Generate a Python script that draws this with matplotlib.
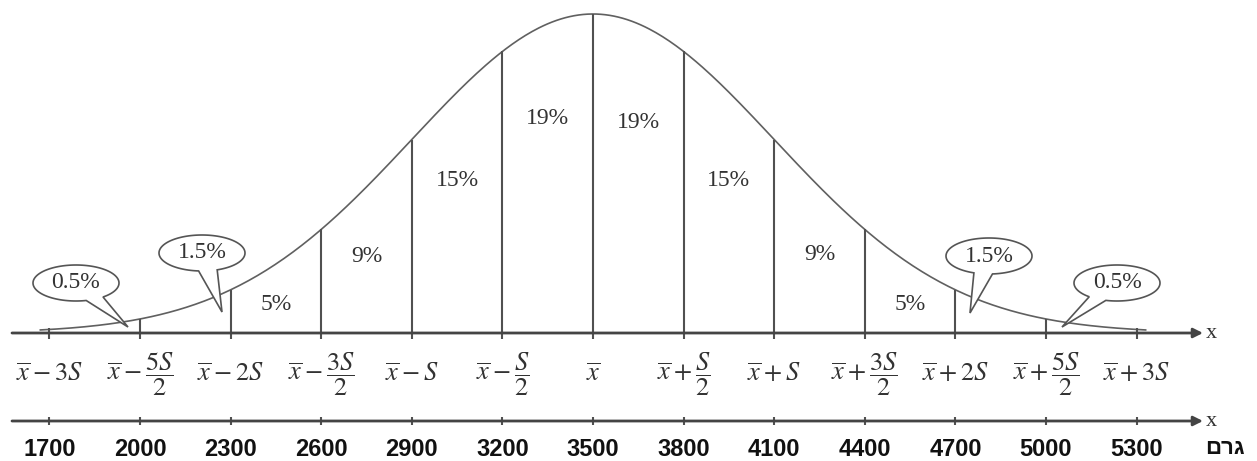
import numpy as np
import matplotlib.pyplot as plt

# normal curve: mean and standard deviation in grams
mean = 3500
S = 600
values = [1700, 2000, 2300, 2600, 2900, 3200, 3500, 3800, 4100, 4400, 4700, 5000, 5300]
sym_labels = [r'$\overline{x}-3S$', r'$\overline{x}-\dfrac{5S}{2}$', r'$\overline{x}-2S$',
              r'$\overline{x}-\dfrac{3S}{2}$', r'$\overline{x}-S$', r'$\overline{x}-\dfrac{S}{2}$',
              r'$\overline{x}$', r'$\overline{x}+\dfrac{S}{2}$', r'$\overline{x}+S$',
              r'$\overline{x}+\dfrac{3S}{2}$', r'$\overline{x}+2S$', r'$\overline{x}+\dfrac{5S}{2}$',
              r'$\overline{x}+3S$']
shares = ['5%', '9%', '15%', '19%', '19%', '15%', '9%', '5%']
tail_shares = ['0.5%', '1.5%', '1.5%', '0.5%']
unit = 'גרם'

# layout (pixel anchors of the picture)
W, H = 1257, 461
mean_px, px_per_unit = 593, 0.302
base_px, peak_h = 333, 319

fig = plt.figure(figsize=(W / 100, H / 100), dpi=100)
ax = fig.add_axes([0, 0, 1, 1])
ax.set_xlim(mean - mean_px / px_per_unit, mean + (W - mean_px) / px_per_unit)
ax.set_ylim(-(H - base_px) / peak_h, base_px / peak_h)
ax.axis('off')


def dx(px):
    return mean + (px - mean_px) / px_per_unit


def dy(py):
    return (base_px - py) / peak_h


def pdf(x):
    return np.exp(-0.5 * ((np.asarray(x) - mean) / S) ** 2)


line_c = '#505050'
low_y = dy(421)

# curve
xs = np.linspace(mean - 3.05 * S, mean + 3.05 * S, 500)
ax.plot(xs, pdf(xs), color='#606060', lw=1.2)

# vertical dividers on the upper axis
for v in values:
    top = pdf(v) if v not in (values[0], values[-1]) else 0.015
    ax.vlines(v, -0.018, top, color=line_c, lw=1.5)
    ax.vlines(v, low_y - 0.012, low_y + 0.012, color=line_c, lw=1.5)

# axes with arrows
for yy in (0, low_y):
    ax.annotate('', xy=(dx(1203), yy), xytext=(dx(12), yy),
                arrowprops=dict(arrowstyle='-|>', color='#444444', lw=2,
                                mutation_scale=14, shrinkA=0, shrinkB=0))
    ax.text(dx(1206), yy, 'x', fontsize=16, family='Liberation Serif',
            va='center', ha='left', color='#333333')

# symbolic labels
plt.rcParams['mathtext.fontset'] = 'stix'
for v, lab in zip(values, sym_labels):
    ax.text(v, dy(374), lab, fontsize=19, ha='center', va='center', color='#333333')

# numeric labels
for v in values:
    ax.text(v, dy(449), str(v), fontsize=17, fontweight='bold', family='Liberation Sans',
            ha='center', va='center', color='#111111')

# share labels inside the bands
share_x = [(a + b) / 2 for a, b in zip(values[2:-3], values[3:-2])]
share_py = [305, 256, 180, 118, 123, 180, 255, 305]
for x, py, s in zip(share_x, share_py, shares):
    ax.text(x, dy(py), s, fontsize=17, family='Liberation Serif', ha='center',
            va='center', color='#333333')

# callout bubbles for the tails
bubbles = [((76, 283), (128, 327)), ((202, 253), (222, 312)),
           ((989, 256), (970, 313)), ((1117, 283), (1062, 327))]
for ((cx, cy), (tx, ty)), s in zip(bubbles, tail_shares):
    rw, rh = 43, 18
    ang = np.arctan2(-(ty - cy) / rh, (tx - cx) / rw)
    t = np.linspace(ang + 0.22, ang + 2 * np.pi - 0.22, 120)
    px = cx + rw * np.cos(t)
    py = cy - rh * np.sin(t)
    pts = np.column_stack([dx(np.append(px, tx)), dy(np.append(py, ty))])
    ax.add_patch(plt.Polygon(pts, closed=True, facecolor='white', edgecolor='#555555',
                             lw=1.2, zorder=5))
    ax.text(dx(cx), dy(cy), s, fontsize=17, family='Liberation Serif', ha='center',
            va='center', color='#333333', zorder=6)

# unit label (visual order for right-to-left text)
ax.text(dx(1205), dy(459), unit[::-1], fontsize=16, fontweight='bold',
        family='Liberation Sans', ha='left', va='bottom', color='#111111')

fig.savefig('out.png', dpi=100)
